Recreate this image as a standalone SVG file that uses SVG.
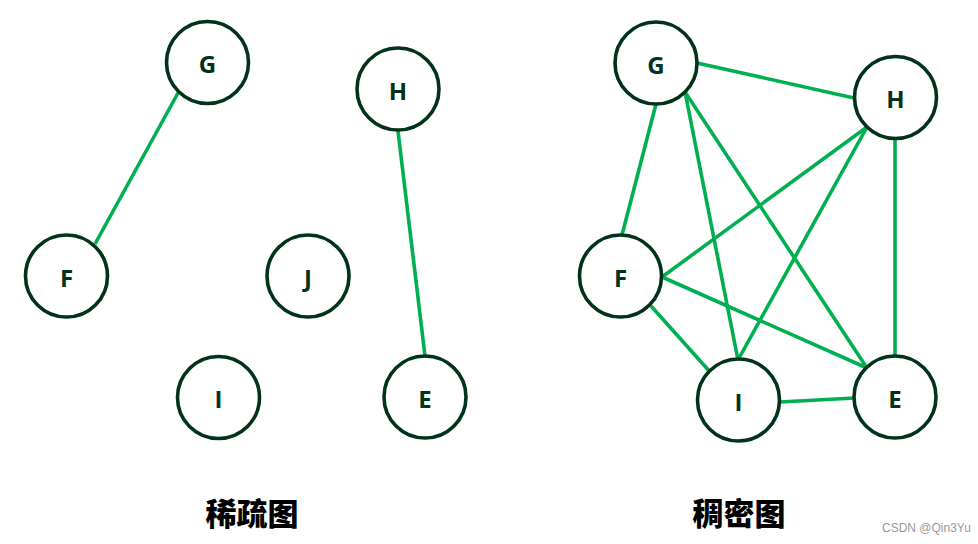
<svg xmlns="http://www.w3.org/2000/svg" width="978" height="544" viewBox="0 0 978 544">
<style>
.n circle{fill:#fff;stroke:#00331a;stroke-width:3.6}
.n text{font-family:"Open Sans","Noto Sans",sans-serif;font-weight:700;font-size:24px;fill:#00331a;text-anchor:middle;dominant-baseline:central}
.e line{stroke:#00b050;stroke-width:3.6;stroke-linecap:butt}
.t{font-family:"Noto Sans CJK SC","Noto Sans",sans-serif;font-weight:900;font-size:31px;fill:#000;text-anchor:middle}
.w{font-family:"Liberation Sans",Arial,sans-serif;font-size:12px;fill:#999}
</style>
<rect width="978" height="544" fill="#fff"/>
<g id="connectors" class="e">
<line x1="178" y1="93" x2="95" y2="244"/>
<line x1="398" y1="131" x2="425" y2="356"/>
<line x1="697" y1="63" x2="854" y2="98"/>
<line x1="656" y1="104" x2="622" y2="235"/>
<line x1="685" y1="92" x2="738" y2="360"/>
<line x1="685" y1="92" x2="867" y2="368"/>
<line x1="867" y1="127" x2="662" y2="277"/>
<line x1="867" y1="127" x2="738" y2="360"/>
<line x1="895" y1="139" x2="895" y2="356"/>
<line x1="662" y1="277" x2="867" y2="368"/>
<line x1="651" y1="306" x2="711" y2="373"/>
<line x1="780" y1="402" x2="855" y2="398"/>
</g>
<g id="sG" class="n"><circle cx="207.5" cy="62.5" r="41"/><text x="207.5" y="63">G</text></g>
<g id="sH" class="n"><circle cx="398" cy="89" r="41"/><text x="398" y="90">H</text></g>
<g id="sF" class="n"><circle cx="66.5" cy="276" r="41"/><text x="66.5" y="277">F</text></g>
<g id="sJ" class="n"><circle cx="308" cy="276" r="41"/><text x="308" y="277">J</text></g>
<g id="sI" class="n"><circle cx="218.5" cy="397.5" r="41"/><text x="218.5" y="398">I</text></g>
<g id="sE" class="n"><circle cx="425" cy="397" r="41"/><text x="425" y="398">E</text></g>
<g id="dG" class="n"><circle cx="656" cy="63" r="41"/><text x="656" y="64">G</text></g>
<g id="dH" class="n"><circle cx="895.5" cy="97.5" r="41"/><text x="895.5" y="98">H</text></g>
<g id="dF" class="n"><circle cx="620.5" cy="276" r="41"/><text x="620.5" y="277">F</text></g>
<g id="dI" class="n"><circle cx="738.5" cy="400" r="41"/><text x="738.5" y="401">I</text></g>
<g id="dE" class="n"><circle cx="895" cy="397" r="41"/><text x="895" y="398">E</text></g>
<text class="t" x="252" y="525">稀疏图</text>
<text class="t" x="739" y="525">稠密图</text>
<text class="w" x="882" y="532">CSDN @Qin3Yu</text>
</svg>
